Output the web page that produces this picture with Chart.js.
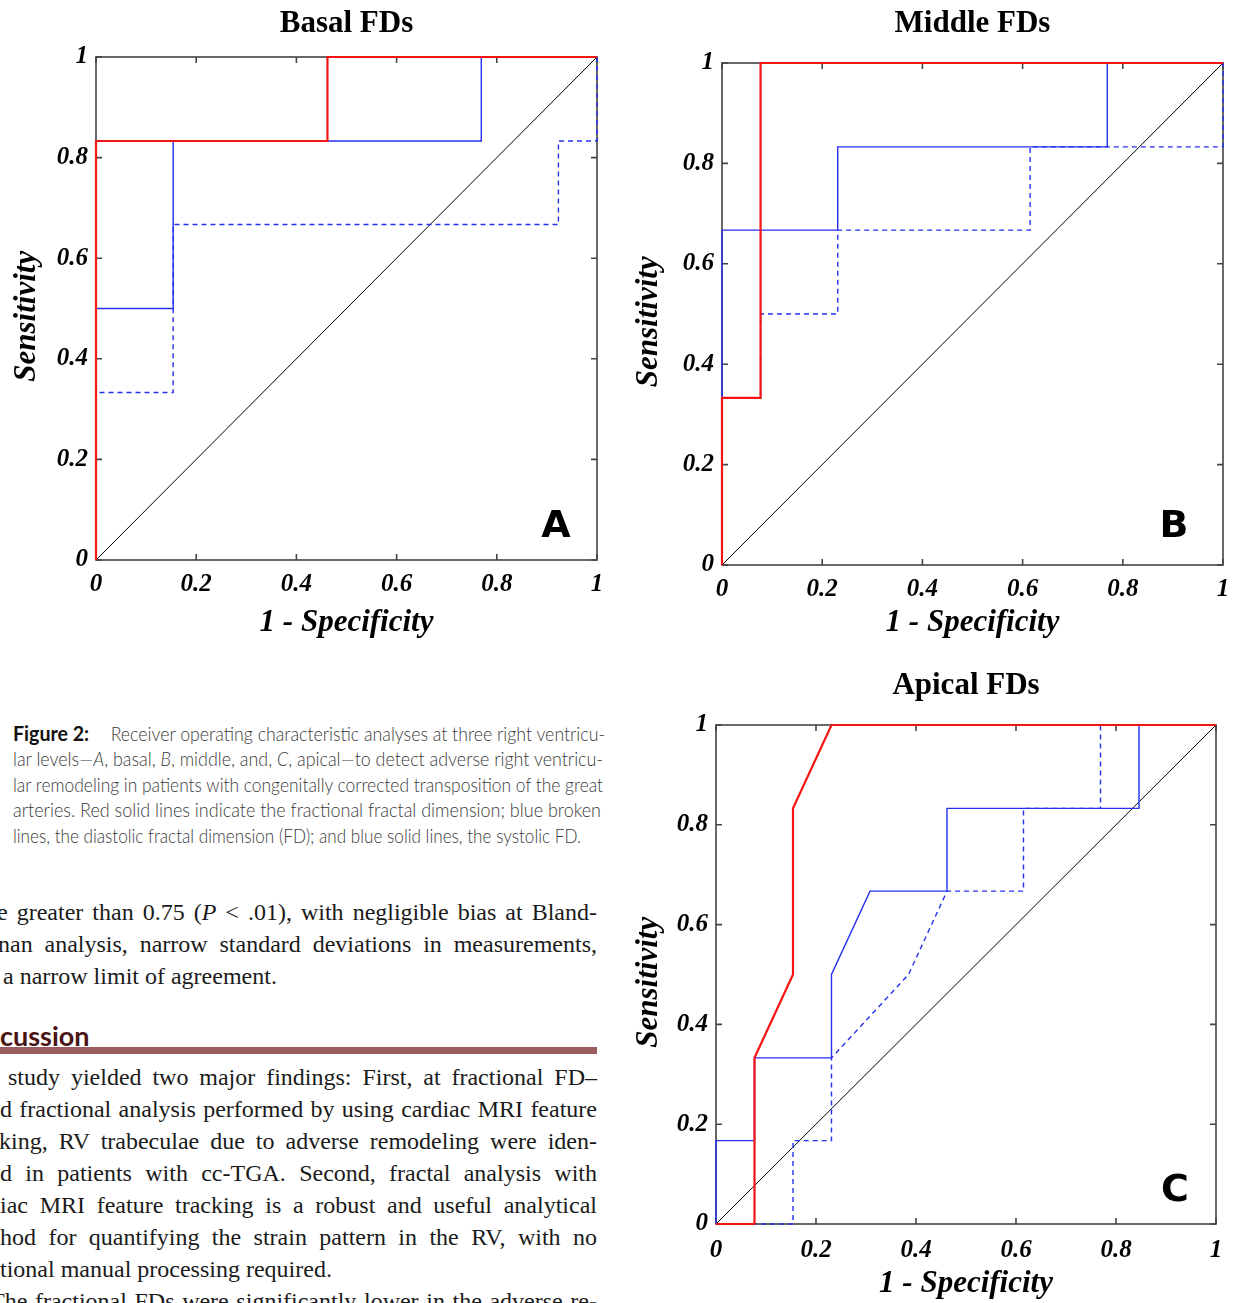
<!DOCTYPE html>
<html>
<head>
<meta charset="utf-8">
<script src="https://cdn.jsdelivr.net/npm/chart.js@4.4.1/dist/chart.umd.min.js"></script>
<style>
html,body{margin:0;padding:0;background:#fff;width:1237px;height:1303px;overflow:hidden;position:relative}
.panel{position:absolute}
.letter{position:absolute;font-family:"DejaVu Sans",sans-serif;font-weight:bold;font-size:38px;color:#000;line-height:1;transform:translate(-50%,-50%)}
.ln{position:absolute;white-space:nowrap;overflow:visible}
.ln .t{display:inline-block;transform-origin:left center}
.cap{font-family:Lato,"Noto Sans",sans-serif;font-weight:300;font-size:19px;line-height:26px;color:#3a3a3a}
.cap b{font-weight:bold;color:#111;font-size:21px;margin-right:23px}
.body{font-family:"Liberation Serif",serif;font-size:24px;line-height:32px;color:#1a1a1a}
.head{position:absolute;left:0;top:1021px;font-family:Lato,"Noto Sans",sans-serif;font-weight:bold;font-size:27px;line-height:30px;color:#4b1414}
.rule{position:absolute;left:0;top:1047px;width:597px;height:7px;background:#9a5c5c}
</style>
</head>
<body>
<div class="panel" style="left:0;top:0;width:620px;height:650px"><canvas id="basal"></canvas></div>
<div class="panel" style="left:626px;top:0;width:611px;height:650px"><canvas id="middle"></canvas></div>
<div class="panel" style="left:626px;top:650px;width:611px;height:653px"><canvas id="apical"></canvas></div>
<div class="letter" style="left:556px;top:524px">A</div>
<div class="letter" style="left:1174px;top:524px">B</div>
<div class="letter" style="left:1175px;top:1188px">C</div>

<div class="ln cap j" style="left:13px;top:720px;width:592px"><span class="t"><b>Figure 2:</b>Receiver operating characteristic analyses at three right ventricu-</span></div>
<div class="ln cap j" style="left:13px;top:746px;width:590px"><span class="t">lar levels—<i>A</i>, basal, <i>B</i>, middle, and, <i>C</i>, apical—to detect adverse right ventricu-</span></div>
<div class="ln cap j" style="left:13px;top:772px;width:590px"><span class="t">lar remodeling in patients with congenitally corrected transposition of the great</span></div>
<div class="ln cap j" style="left:13px;top:797px;width:588px"><span class="t">arteries. Red solid lines indicate the fractional fractal dimension; blue broken</span></div>
<div class="ln cap j" style="left:13px;top:823px;width:568px"><span class="t">lines, the diastolic fractal dimension (FD); and blue solid lines, the systolic FD.</span></div>

<div class="ln body j" style="left:-3px;top:896px;width:600px"><span class="t">e greater than 0.75 (<i>P</i> &lt; .01), with negligible bias at Bland-</span></div>
<div class="ln body j" style="left:-2px;top:928px;width:599px"><span class="t">nan analysis, narrow standard deviations in measurements,</span></div>
<div class="ln body" style="left:3px;top:960px;width:291px"><span class="t">a narrow limit of agreement.</span></div>
<div class="head">cussion</div>
<div class="rule"></div>
<div class="ln body j" style="left:8px;top:1061px;width:589px"><span class="t">study yielded two major findings: First, at fractional FD–</span></div>
<div class="ln body j" style="left:0;top:1093px;width:597px"><span class="t">d fractional analysis performed by using cardiac MRI feature</span></div>
<div class="ln body j" style="left:-1px;top:1125px;width:598px"><span class="t">king, RV trabeculae due to adverse remodeling were iden-</span></div>
<div class="ln body j" style="left:0;top:1157px;width:597px"><span class="t">d in patients with cc-TGA. Second, fractal analysis with</span></div>
<div class="ln body j" style="left:0;top:1189px;width:597px"><span class="t">iac MRI feature tracking is a robust and useful analytical</span></div>
<div class="ln body j" style="left:0;top:1221px;width:597px"><span class="t">hod for quantifying the strain pattern in the RV, with no</span></div>
<div class="ln body" style="left:0;top:1253px;width:355px"><span class="t">tional manual processing required.</span></div>
<div class="ln body j" style="left:-10px;top:1285px;width:607px"><span class="t">The fractional FDs were significantly lower in the adverse re-</span></div>

<script>
// ROC points: x = 1 - specificity, y = sensitivity
var basalFractionalX = [0, 0, 0.462, 0.462, 1];
var basalFractionalY = [0, 0.833, 0.833, 1, 1];
var basalSystolicX = [0, 0, 0.154, 0.154, 0.769, 0.769, 1];
var basalSystolicY = [0, 0.5, 0.5, 0.833, 0.833, 1, 1];
var basalDiastolicX = [0, 0, 0.154, 0.154, 0.923, 0.923, 1, 1];
var basalDiastolicY = [0, 0.333, 0.333, 0.667, 0.667, 0.833, 0.833, 1];

var middleFractionalX = [0, 0, 0.077, 0.077, 1];
var middleFractionalY = [0, 0.333, 0.333, 1, 1];
var middleSystolicX = [0, 0, 0.231, 0.231, 0.769, 0.769, 1];
var middleSystolicY = [0, 0.667, 0.667, 0.833, 0.833, 1, 1];
var middleDiastolicX = [0, 0, 0.077, 0.077, 0.231, 0.231, 0.615, 0.615, 1, 1];
var middleDiastolicY = [0, 0.333, 0.333, 0.5, 0.5, 0.667, 0.667, 0.833, 0.833, 1];

var apicalFractionalX = [0, 0.077, 0.077, 0.154, 0.154, 0.231, 1];
var apicalFractionalY = [0, 0, 0.333, 0.5, 0.833, 1, 1];
var apicalSystolicX = [0, 0, 0.077, 0.077, 0.231, 0.231, 0.308, 0.462, 0.462, 0.846, 0.846, 1];
var apicalSystolicY = [0, 0.167, 0.167, 0.333, 0.333, 0.5, 0.667, 0.667, 0.833, 0.833, 1, 1];
var apicalDiastolicX = [0, 0.154, 0.154, 0.231, 0.231, 0.385, 0.462, 0.615, 0.615, 0.769, 0.769, 1];
var apicalDiastolicY = [0, 0, 0.167, 0.167, 0.333, 0.5, 0.667, 0.667, 0.833, 0.833, 1, 1];

var chanceX = [0, 1];
var chanceY = [0, 1];
var axisTicks = [0, 0.2, 0.4, 0.6, 0.8, 1];

var serif = '"Liberation Serif", "Times New Roman", serif';

function pts(xs, ys){
  return xs.map(function(x, i){ return {x: x, y: ys[i]}; });
}

function series(fx, fy, sx, sy, dx, dy){
  return [
    {data: pts(fx, fy), borderColor: '#f41414', borderWidth: 2.2},
    {data: pts(sx, sy), borderColor: '#2430ee', borderWidth: 1.4},
    {data: pts(dx, dy), borderColor: '#2430ee', borderWidth: 1.4, borderDash: [5, 4]},
    {data: pts(chanceX, chanceY), borderColor: '#000', borderWidth: 1}
  ].map(function(d){
    d.showLine = true; d.pointRadius = 0; d.fill = false; d.clip = false; d.tension = 0;
    return d;
  });
}

// matlab style box with inward ticks on all four sides
var boxTicks = {
  id: 'boxTicks',
  beforeDatasetsDraw: function(chart){
    var a = chart.chartArea, ctx = chart.ctx, sx = chart.scales.x, sy = chart.scales.y;
    ctx.save();
    ctx.strokeStyle = '#444';
    ctx.lineWidth = 1.6;
    ctx.strokeRect(a.left, a.top, a.right - a.left, a.bottom - a.top);
    ctx.beginPath();
    sx.ticks.forEach(function(t){
      var p = sx.getPixelForValue(t.value);
      ctx.moveTo(p, a.bottom); ctx.lineTo(p, a.bottom - 6);
      ctx.moveTo(p, a.top); ctx.lineTo(p, a.top + 6);
    });
    sy.ticks.forEach(function(t){
      var p = sy.getPixelForValue(t.value);
      ctx.moveTo(a.left, p); ctx.lineTo(a.left + 6, p);
      ctx.moveTo(a.right, p); ctx.lineTo(a.right - 6, p);
    });
    ctx.stroke();
    ctx.restore();
  }
};

function rocChart(id, titleText, g, sets){
  var tickFont = {family: serif, size: 25, style: 'italic', weight: 'bold', lineHeight: 1.2};
  var labelFont = {family: serif, size: 31, style: 'italic', weight: 'bold', lineHeight: 1.2};
  return new Chart(document.getElementById(id), {
    type: 'scatter',
    data: {datasets: sets},
    options: {
      responsive: true,
      maintainAspectRatio: false,
      animation: false,
      devicePixelRatio: 1,
      layout: {padding: {left: 0, right: g.padRight, top: 0, bottom: 0}},
      plugins: {
        legend: {display: false},
        tooltip: {enabled: false},
        title: {
          display: true, text: titleText, color: '#000', fullSize: false,
          font: {family: serif, size: 31, weight: 'bold', lineHeight: 1.2},
          padding: {top: g.titleTop, bottom: g.titleBottom}
        }
      },
      scales: {
        x: {
          type: 'linear', min: 0, max: 1,
          grid: {display: false}, border: {display: false},
          afterBuildTicks: function(s){ s.ticks = axisTicks.map(function(v){ return {value: v}; }); },
          ticks: {color: '#000', padding: g.xTickPad, maxRotation: 0, autoSkip: false, font: tickFont,
                  callback: function(v){ return String(v); }},
          title: {display: true, text: '1 - Specificity', color: '#000', font: labelFont,
                  padding: {top: 0, bottom: g.xTitleBottom}},
          afterFit: function(s){ s.height = g.xAxisH; }
        },
        y: {
          type: 'linear', min: 0, max: 1,
          grid: {display: false}, border: {display: false},
          afterBuildTicks: function(s){ s.ticks = axisTicks.map(function(v){ return {value: v}; }); },
          ticks: {color: '#000', padding: 0, autoSkip: false, font: tickFont,
                  callback: function(v){ return String(v); }},
          title: {display: true, text: 'Sensitivity\u2002', color: '#000', font: labelFont,
                  padding: {top: g.yTitleTop, bottom: 0}},
          afterFit: function(s){ s.width = g.yAxisW; }
        }
      }
    },
    plugins: [boxTicks]
  });
}

rocChart('basal', 'Basal FDs',
  {padRight: 23, titleTop: 5, titleBottom: 14.8, xAxisH: 90, xTickPad: 2, xTitleBottom: 8.5, yAxisW: 96, yTitleTop: 8.4},
  series(basalFractionalX, basalFractionalY, basalSystolicX, basalSystolicY, basalDiastolicX, basalDiastolicY));

rocChart('middle', 'Middle FDs',
  {padRight: 14, titleTop: 5, titleBottom: 20.8, xAxisH: 85, xTickPad: 2, xTitleBottom: 8.5, yAxisW: 96, yTitleTop: 4.4},
  series(middleFractionalX, middleFractionalY, middleSystolicX, middleSystolicY, middleDiastolicX, middleDiastolicY));

rocChart('apical', 'Apical FDs',
  {padRight: 21, titleTop: 17.4, titleBottom: 20.4, xAxisH: 79, xTickPad: 4, xTitleBottom: 0, yAxisW: 90, yTitleTop: 4.4},
  series(apicalFractionalX, apicalFractionalY, apicalSystolicX, apicalSystolicY, apicalDiastolicX, apicalDiastolicY));

// stretch justified lines to their column width, squeeze lines that are too long
document.querySelectorAll('.ln').forEach(function(d){
  var target = parseFloat(d.style.width);
  var s = d.querySelector('.t');
  var natural = s.getBoundingClientRect().width;
  if (natural > target) {
    s.style.transform = 'scaleX(' + (target / natural) + ')';
  } else if (d.classList.contains('j')) {
    var gaps = (s.textContent.match(/ /g) || []).length;
    if (gaps) s.style.wordSpacing = ((target - natural) / gaps) + 'px';
  }
});
</script>
</body>
</html>
